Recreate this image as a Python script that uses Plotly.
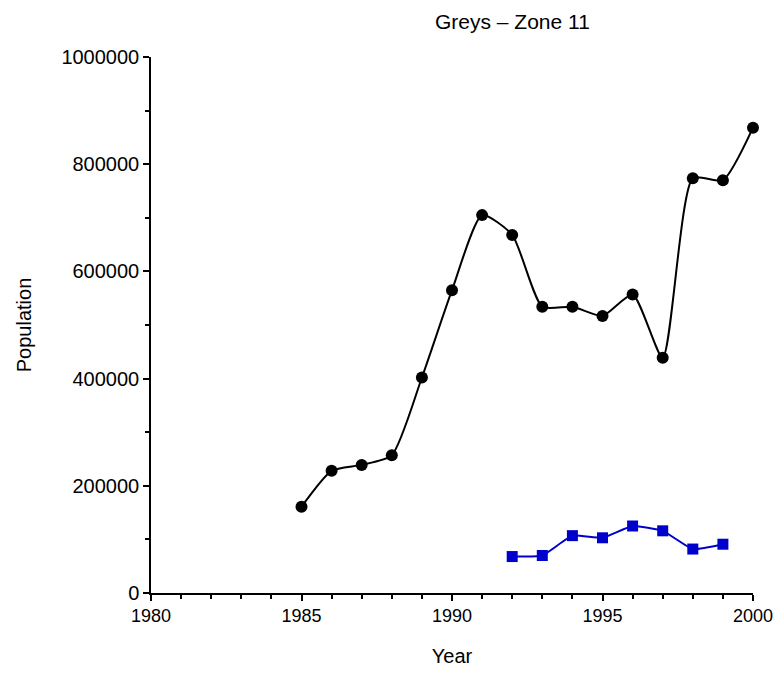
import plotly.graph_objects as go

# Annual population estimates
years_total = [1985, 1986, 1987, 1988, 1989, 1990, 1991, 1992, 1993, 1994,
               1995, 1996, 1997, 1998, 1999, 2000]
pop_total = [161000, 228000, 239000, 257000, 402000, 565000, 705000, 668000,
             534000, 534000, 517000, 557000, 439000, 774000, 770000, 868000]

years_pups = [1992, 1993, 1994, 1995, 1996, 1997, 1998, 1999]
pop_pups = [68000, 70000, 107000, 103000, 125000, 116000, 82000, 91000]

x_ticks = [1980, 1985, 1990, 1995, 2000]
y_ticks = [0, 200000, 400000, 600000, 800000, 1000000]

FONT = "Liberation Sans, Arial, sans-serif"

fig = go.Figure()
fig.add_trace(go.Scatter(
    x=years_total, y=pop_total, mode="lines+markers",
    line=dict(color="black", width=2, shape="spline", smoothing=0.6),
    marker=dict(symbol="circle", size=12, color="black"),
    cliponaxis=False, showlegend=False,
))
fig.add_trace(go.Scatter(
    x=years_pups, y=pop_pups, mode="lines+markers",
    line=dict(color="#0000cc", width=2, shape="spline", smoothing=0.4),
    marker=dict(symbol="square", size=11, color="#0000cc"),
    cliponaxis=False, showlegend=False,
))

axis_common = dict(
    showline=True, linecolor="black", linewidth=1.5,
    ticks="outside", ticklen=6, tickwidth=1.5, tickcolor="black",
    showgrid=False, zeroline=False, mirror=False, automargin=False,
    ticklabeloverflow="allow",
)

fig.update_xaxes(
    range=[1980, 2000], tickvals=x_ticks, ticktext=[str(v) for v in x_ticks],
    tickfont=dict(family=FONT, size=18, color="black"),
    minor=dict(dtick=1, tick0=1980, ticks="outside", ticklen=4, tickwidth=1.5,
               tickcolor="black"),
    title=dict(text="Year", font=dict(family=FONT, size=20, color="black"),
               standoff=24),
    **axis_common,
)
fig.update_yaxes(
    range=[0, 1000000], tickvals=y_ticks, ticktext=[str(v) for v in y_ticks],
    tickfont=dict(family=FONT, size=20, color="black"),
    minor=dict(dtick=100000, tick0=0, ticks="outside", ticklen=4, tickwidth=1.5,
               tickcolor="black"),
    title=dict(text="Population", font=dict(family=FONT, size=20, color="black"),
               standoff=24),
    **axis_common,
)

fig.update_layout(
    width=774, height=675,
    margin=dict(l=151, r=21, t=57, b=82),
    plot_bgcolor="white", paper_bgcolor="white",
    annotations=[dict(
        text="Greys – Zone 11", xref="paper", yref="paper",
        x=0.6, y=1.0, yshift=36, xanchor="center", yanchor="middle",
        showarrow=False, font=dict(family=FONT, size=21, color="black"),
    )],
)

fig.write_html("out.html")
